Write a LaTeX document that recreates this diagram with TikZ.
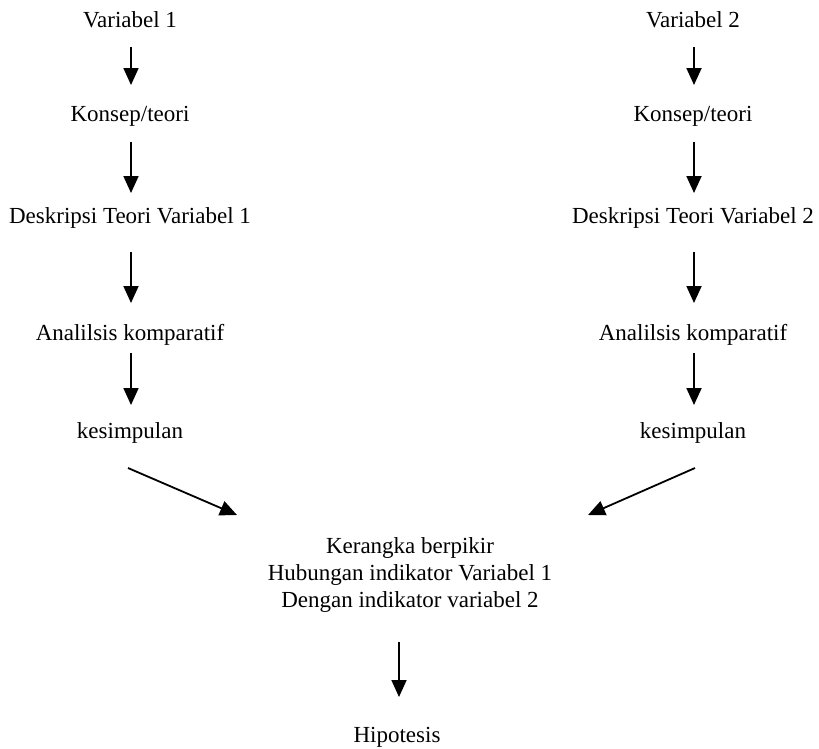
\documentclass[tikz,border=0pt]{standalone}
\usepackage{fontspec}
\setmainfont{Liberation Serif}
\usetikzlibrary{arrows.meta}

\begin{document}
\begin{tikzpicture}[x=1pt,y=-1pt,line width=1.8pt,
  lbl/.style={font=\fontsize{23}{27}\selectfont,inner sep=0pt,anchor=base,align=center},
  arr/.style={-{Triangle[length=17pt,width=15pt]}}]
\useasboundingbox (0,0) rectangle (819,748);

\foreach \c/\x in {1/130, 2/693}
\foreach [count=\i] \t/\y in {Variabel \c/27, {Konsep/teori}/121, Deskripsi Teori Variabel \c/223, Analilsis komparatif/340, kesimpulan/438}
\node[lbl] (n\c\i) at (\x,\y) {\t};

\foreach \c in {1,2}
\foreach \i/\j/\a/\b in {1/2/20/36, 2/3/21/30, 3/4/29/37, 4/5/13/33}
\draw[arr] ([shift={(1,\a)}]n\c\i.base) -- ([shift={(1,-\b)}]n\c\j.base);

\node[lbl] (krg) at (410,607) {Kerangka berpikir\\Hubungan indikator Variabel 1\\Dengan indikator variabel 2};
\node[lbl] (hip) at (397,742) {Hipotesis};

\draw[arr] ([shift={(-2,30)}]n15.base) -- ([shift={(-173,-92)}]krg.base);
\draw[arr] ([shift={(2,30)}]n25.base) -- ([shift={(178,-92)}]krg.base);
\draw[arr] ([shift={(2,29)}]krg.south -| hip.base) -- ([shift={(2,-45)}]hip.base);

\end{tikzpicture}
\end{document}
